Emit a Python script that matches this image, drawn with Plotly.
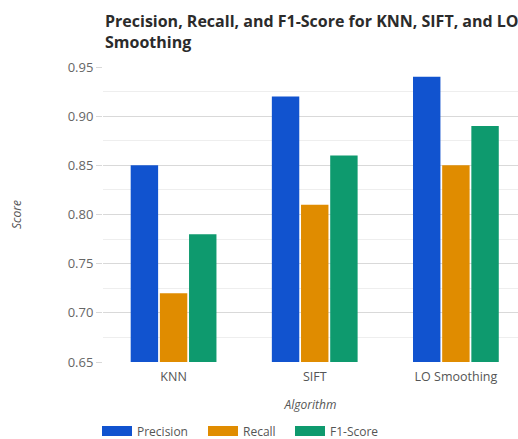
import plotly.graph_objects as go

algorithms = ["KNN", "SIFT", "LO Smoothing"]
precision = [0.85, 0.92, 0.94]
recall = [0.72, 0.81, 0.85]
f1_score = [0.78, 0.86, 0.89]
y_ticks = [0.65, 0.70, 0.75, 0.80, 0.85, 0.90, 0.95]

series = [
    ("Precision", precision, "#1153CF", "legend"),
    ("Recall", recall, "#E08C00", "legend2"),
    ("F1-Score", f1_score, "#0E9A6E", "legend3"),
]

fig = go.Figure()
for name, vals, color, lg in series:
    fig.add_trace(go.Bar(
        x=algorithms, y=vals, name=name, marker_color=color,
        marker_line_width=0, showlegend=False, legendgroup=name,
    ))
# wide rectangular legend swatches, one legend box per series
for name, vals, color, lg in series:
    fig.add_trace(go.Scatter(
        x=[None], y=[None], mode="lines", name=name, legendgroup=name,
        line=dict(color=color, width=12), legend=lg,
    ))

legend_style = dict(
    orientation="h", yref="container", y=(439 - 431) / 439, yanchor="middle",
    xref="container", xanchor="left", bgcolor="rgba(0,0,0,0)",
    font=dict(size=12, color="#555555"), itemwidth=30,
)
fig.update_layout(
    width=518, height=439,
    margin=dict(l=103, r=0, t=67, b=77, autoexpand=False),
    paper_bgcolor="white", plot_bgcolor="white",
    font=dict(family="Open Sans, sans-serif", size=12, color="#555555"),
    barmode="group", bargap=0.38, bargroupgap=0.06,
    legend=dict(legend_style, x=(105 - 8) / 518),
    legend2=dict(legend_style, x=(211 - 8) / 518),
    legend3=dict(legend_style, x=(298 - 8) / 518),
    annotations=[dict(
        text="<b>Precision, Recall, and F1-Score for KNN, SIFT, and LO<br>Smoothing</b>",
        xref="paper", yref="paper", x=0, y=(362 - 8) / 295,
        xanchor="left", yanchor="top", align="left", showarrow=False,
        font=dict(size=16, color="#2b2b2b", family="Open Sans, sans-serif"),
    )],
)
fig.update_xaxes(
    range=[-0.5, 2.44], showgrid=False, showline=False, ticks="",
    ticklabelstandoff=5,
    title=dict(text="<i>Algorithm</i>", standoff=17, font=dict(size=12, color="#555555")),
    tickfont=dict(size=12.5, color="#555555"),
)
fig.update_yaxes(
    range=[0.65, 0.95], tickvals=y_ticks, tickformat=".2f",
    showgrid=True, gridcolor="#d9d9d9", gridwidth=1,
    minor=dict(dtick=0.025, showgrid=True, gridcolor="#eeeeee", tick0=0.65),
    ticks="outside", ticklen=6, tickcolor="#d9d9d9",
    zeroline=False, showline=False,
    title=dict(text="<i>Score</i>", standoff=43, font=dict(size=12, color="#555555")),
    tickfont=dict(size=13, color="#666666"),
)

fig.write_html("out.html")
